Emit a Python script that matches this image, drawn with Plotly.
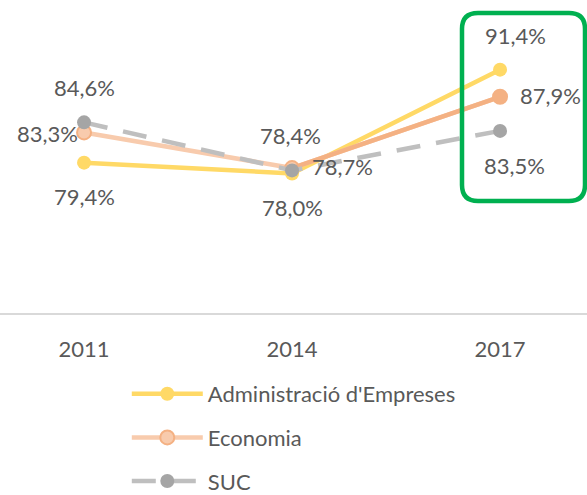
import plotly.graph_objects as go

years = ["2011", "2014", "2017"]
admin = [79.4, 78.0, 91.4]
econ = [83.3, 78.7, 87.9]
suc = [84.6, 78.4, 83.5]

names = ["Administració d'Empreses", "Economia", "SUC"]

def fmt(v):
    return f"{v:.1f}%".replace(".", ",")

FONT = "Lato"
TXT = "#595959"
FS = 22

fig = go.Figure()
fig.add_trace(go.Scatter(
    x=years, y=admin, name=names[0], mode="lines+markers", legendgroup="a",
    line=dict(color="#FFD966", width=4.5),
    marker=dict(size=14, color="#FFD966"),
))
fig.add_trace(go.Scatter(
    x=years, y=econ, name=names[1], mode="lines+markers", legendgroup="b",
    line=dict(color="#F8CBAD", width=4.5),
    marker=dict(size=14, color=["#F8CBAD", "#F8CBAD", "#F4B183"],
                line=dict(color="#F4B183", width=2)),
))
fig.add_trace(go.Scatter(
    x=years[1:], y=econ[1:], mode="lines+markers", legendgroup="b", showlegend=False,
    line=dict(color="#F4B183", width=4.5),
    marker=dict(size=14, color=["rgba(0,0,0,0)", "#F4B183"], line=dict(width=0)),
))
fig.add_trace(go.Scatter(
    x=years, y=suc, name=names[2], mode="lines+markers", legendgroup="c",
    line=dict(color="#BFBFBF", width=4.5, dash="24px,16px"),
    marker=dict(size=14, color="#A5A5A5"),
))

# data labels: (series, [(xshift, yshift) per point])
label_specs = [
    (admin, [(0, -34), (0, -34), (15, 34)]),
    (econ, [(-37, -1), (50, 2), (50, 1)]),
    (suc, [(0, 35), (-2, 35), (14, -35)]),
]
for vals, shifts in label_specs:
    for i, (v, (dx, dy)) in enumerate(zip(vals, shifts)):
        fig.add_annotation(x=i, y=v, xref="x", yref="y", text=fmt(v), showarrow=False,
                           xshift=dx, yshift=dy,
                           font=dict(family=FONT, size=FS, color=TXT))

# green highlight box (rounded rectangle) in paper coords
W, H_plot = 587, 310
def px(xp):
    return xp / W
def py(yp):
    return (313 - yp) / H_plot
x0, x1, y0, y1 = px(462), px(585), py(201), py(13)
rx, ry = 16 / W, 16 / H_plot
path = (f"M {x0+rx},{y1} L {x1-rx},{y1} Q {x1},{y1} {x1},{y1-ry} "
        f"L {x1},{y0+ry} Q {x1},{y0} {x1-rx},{y0} L {x0+rx},{y0} "
        f"Q {x0},{y0} {x0},{y0+ry} L {x0},{y1-ry} Q {x0},{y1} {x0+rx},{y1} Z")
fig.add_shape(type="path", xref="paper", yref="paper", path=path,
              line=dict(color="#00B050", width=4.5), layer="above")

fig.update_layout(
    width=587, height=495,
    margin=dict(l=0, r=0, t=3, b=182, autoexpand=False),
    paper_bgcolor="white", plot_bgcolor="white",
    font=dict(family=FONT, color=TXT),
    xaxis=dict(type="category", range=[-0.404, 2.418], showgrid=False,
               showline=True, linecolor="#D9D9D9", linewidth=2,
               ticks="", tickfont=dict(family=FONT, size=FS, color=TXT),
               ticklabelstandoff=16, fixedrange=True),
    yaxis=dict(range=[60, 100], visible=False, fixedrange=True),
    showlegend=True,
    legend=dict(orientation="v", x=0.216, xanchor="left",
                yref="container", y=(495 - 373) / 495, yanchor="top",
                font=dict(family=FONT, size=FS, color=TXT),
                itemwidth=71, tracegroupgap=12, bgcolor="rgba(0,0,0,0)"),
)

fig.write_html("out.html", config={"displayModeBar": False},
               post_script="document.body.style.margin='0';")
